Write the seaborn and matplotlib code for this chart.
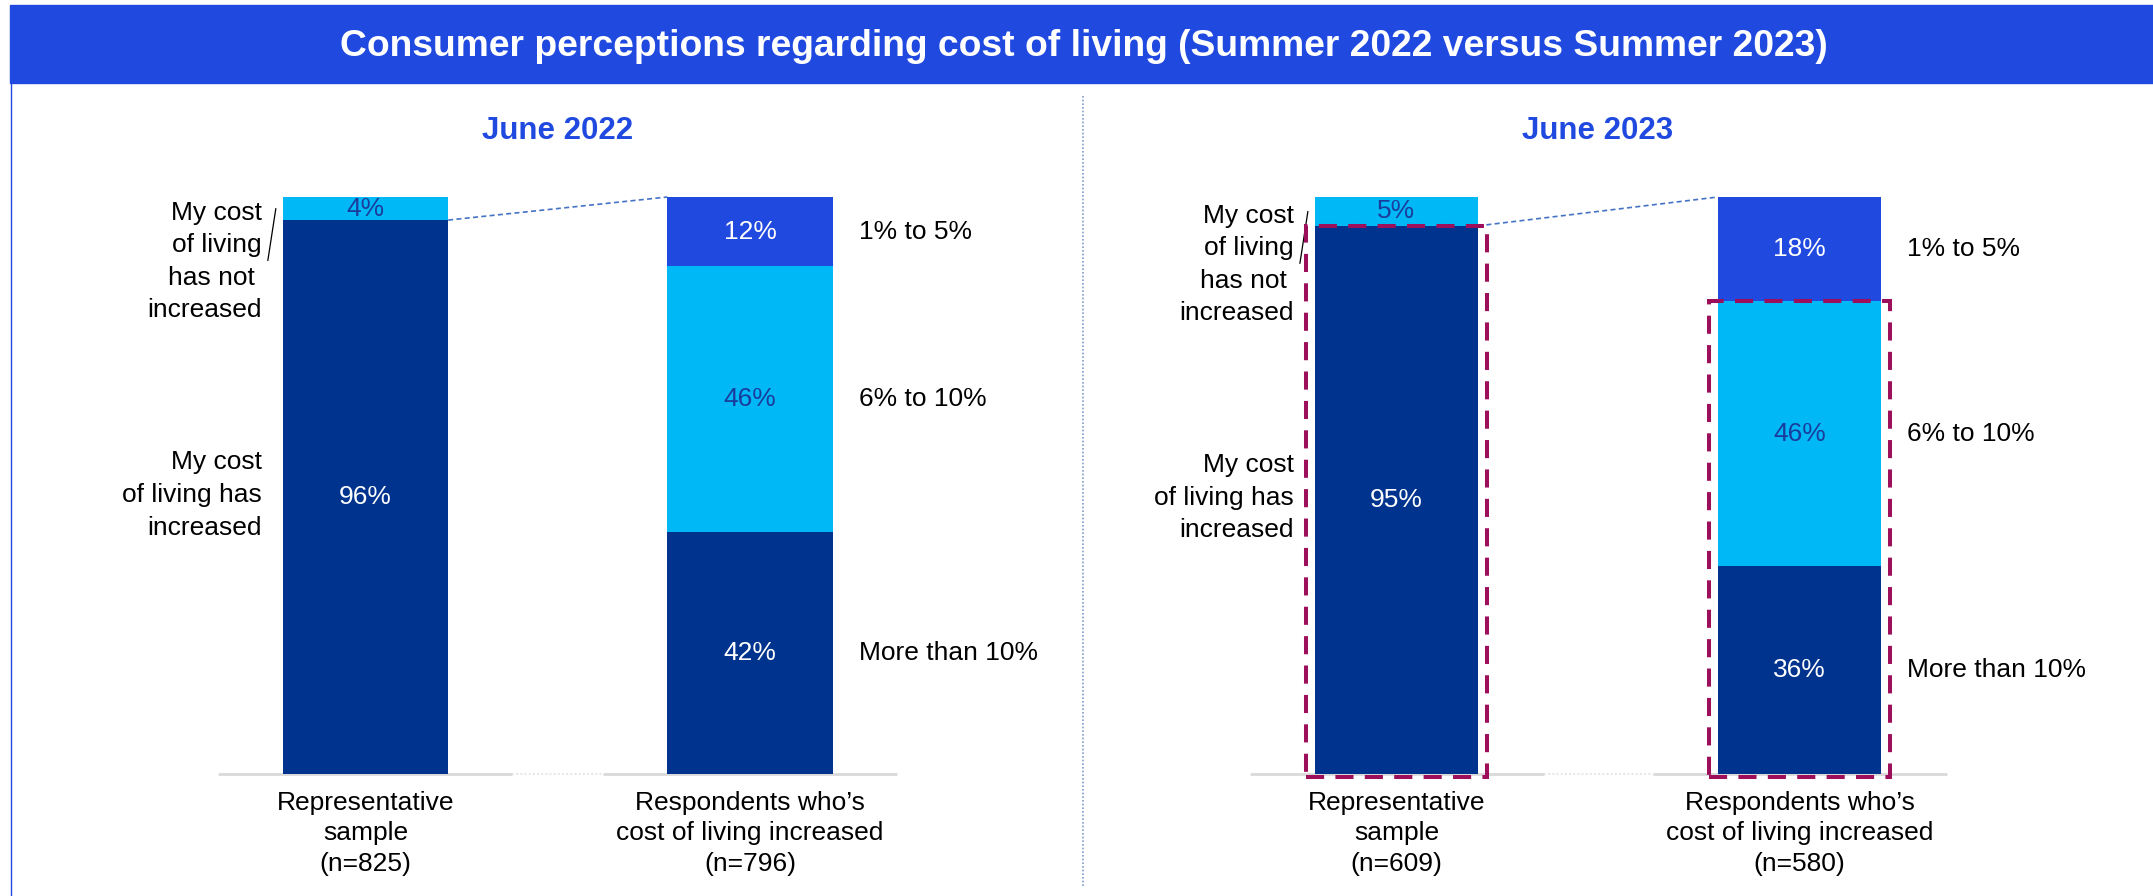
import numpy as np
import matplotlib.pyplot as plt
import seaborn as sns
from matplotlib.patches import Rectangle
from matplotlib.lines import Line2D
from matplotlib.transforms import blended_transform_factory

sns.set_theme(style="white")
plt.rcParams['font.family'] = ['Liberation Sans', 'DejaVu Sans']

# ---- datos ----
main_title = "Consumer perceptions regarding cost of living (Summer 2022 versus Summer 2023)"
panel_titles = ["June 2022", "June 2023"]
cats_2022 = ["Representative\nsample\n(n=825)", "Respondents who’s\ncost of living increased\n(n=796)"]
cats_2023 = ["Representative\nsample\n(n=609)", "Respondents who’s\ncost of living increased\n(n=580)"]
sample_labels = ["My cost\nof living has\nincreased", "My cost\nof living\nhas not \nincreased"]
sample_2022 = [96, 4]      # increased, not increased
sample_2023 = [95, 5]
split_labels = ["More than 10%", "6% to 10%", "1% to 5%"]
split_2022 = [42, 46, 12]  # bottom -> top
split_2023 = [36, 46, 18]

NAVY = "#00338D"
CYAN = "#00B8F5"
ROYAL = "#2049E0"
LABEL_DARK = "#1A3C9C"
HILITE = "#9E0F5B"
FS = 19

W, H = 2153, 896
fig = plt.figure(figsize=(W / 100, H / 100), dpi=100)

# banda de titulo y borde izquierdo
fig.patches.append(Rectangle((10 / W, 1 - 83 / H), 1, 78 / H, transform=fig.transFigure,
                             color=ROYAL, zorder=0))
fig.add_artist(Line2D([11 / W, 11 / W], [0, 1 - 83 / H], transform=fig.transFigure,
                      color=ROYAL, lw=1))
fig.text(1084 / W, 1 - 46 / H, main_title, color="white", fontsize=26.8, fontweight="bold",
         ha="center", va="center")
# separador punteado
fig.add_artist(Line2D([1083 / W] * 2, [1 - 96 / H, 1 - 886 / H], transform=fig.transFigure,
                      color="#7F9AD0", lw=1.2, ls=(0, (1, 1.2))))

# layout en pixeles
Y0, Y100, YTOP = 774, 197, 150
yunit = (Y0 - Y100) / 100
panels = [
    dict(left=100, right=1040, cx0=365.5, unit=384.5, bar_w=0.43, highlight=False,
         cats=cats_2022, sample=sample_2022, split=split_2022, title=panel_titles[0]),
    dict(left=1100, right=2140, cx0=1396.5, unit=403, bar_w=0.405, highlight=True,
         cats=cats_2023, sample=sample_2023, split=split_2023, title=panel_titles[1]),
]


def off(ax, x, y, dx, dy):
    """Punto desplazado (dx, dy) pixeles; dy positivo hacia abajo."""
    d = ax.transData.transform((x, y)) + np.array([dx, -dy])
    return ax.transData.inverted().transform(d)


for p in panels:
    ax = fig.add_axes([p['left'] / W, 1 - Y0 / H, (p['right'] - p['left']) / W, (Y0 - YTOP) / H])
    cats, w = p['cats'], p['bar_w']
    stacks = [(p['sample'], [NAVY, CYAN], ["white", LABEL_DARK]),
              (p['split'], [NAVY, CYAN, ROYAL], ["white", LABEL_DARK, "white"])]

    for i, (vals, cols, _) in enumerate(stacks):
        tops = np.cumsum(vals)
        for top, col in sorted(zip(tops, cols), reverse=True):
            sns.barplot(x=[cats[i]], y=[top], order=cats, color=col, width=w,
                        saturation=1, errorbar=None, linewidth=0, ax=ax)

    ax.set_xlim((p['left'] - p['cx0']) / p['unit'], (p['right'] - p['cx0']) / p['unit'])
    ax.set_ylim(0, (Y0 - YTOP) / yunit)
    ax.set_xlabel('')
    ax.set_ylabel('')
    ax.set_yticks([])
    ax.set_xticks([0, 1])
    ax.set_xticklabels(cats, fontsize=FS, linespacing=1.35, color="black")
    ax.tick_params(axis='x', length=0, pad=12)
    sns.despine(ax=ax, left=True, bottom=True)
    ax.patch.set_alpha(0)

    # etiquetas de valores
    for i, (vals, cols, tcols) in enumerate(stacks):
        tops = np.cumsum(vals)
        for v, top, tc in zip(vals, tops, tcols):
            ax.text(i, top - v / 2, f"{v}%", ha='center', va='center', color=tc, fontsize=FS)

    # linea base gris
    half = 147 / p['unit']
    for i in range(2):
        ax.hlines(0, i - half, i + half, color="#D9D9D9", lw=2, clip_on=False, zorder=0.5)
    ax.hlines(0, half, 1 - half, color="#E8E8E8", lw=1.5, ls=(0, (1, 1)), clip_on=False, zorder=0.5)

    # etiquetas de segmentos (derecha)
    tops = np.cumsum(p['split'])
    for lab, v, top in zip(split_labels, p['split'], tops):
        x, y = off(ax, 1 + w / 2, top - v / 2, 26, 0)
        ax.text(x, y, lab, ha='left', va='center', fontsize=FS, color="black")

    # etiquetas izquierda
    inc, notinc = p['sample']
    x, y = off(ax, -w / 2, inc / 2, -21, -2)
    ax.text(x, y, sample_labels[0], ha='right', va='center', fontsize=FS,
            linespacing=1.45, color="black")
    seg_c = inc + notinc / 2
    x, y = off(ax, -w / 2, seg_c, -21, 53)
    ax.text(x, y, sample_labels[1], ha='right', va='center', fontsize=FS,
            linespacing=1.45, color="black")
    a = off(ax, -w / 2, seg_c, -7, 0)
    b = off(ax, -w / 2, seg_c, -15, 52)
    ax.plot([a[0], b[0]], [a[1], b[1]], color="black", lw=0.9, clip_on=False)

    # conector punteado
    ax.plot([w / 2, 1 - w / 2], [inc, sum(p['split'])], color="#4472C4", lw=1.2,
            ls=(0, (3, 2)), clip_on=False)

    # titulo del panel
    tr = blended_transform_factory(ax.transData, ax.transAxes)
    ax.text(0.5, (Y0 - 131) / (Y0 - YTOP), p['title'], transform=tr, ha='center', va='center',
            fontsize=22.5, fontweight='bold', color=ROYAL)

    # cajas resaltadas
    if p['highlight']:
        padx = 9 / p['unit']
        pady = 3 / yunit
        for i, top in enumerate([inc, p['split'][0] + p['split'][1]]):
            ax.add_patch(Rectangle((i - w / 2 - padx, -pady), w + 2 * padx, top + pady,
                                   fill=False, edgecolor=HILITE, lw=2.9,
                                   ls=(0, (4.5, 2.8)), clip_on=False, zorder=5))

fig.savefig("out.png", dpi=100)
